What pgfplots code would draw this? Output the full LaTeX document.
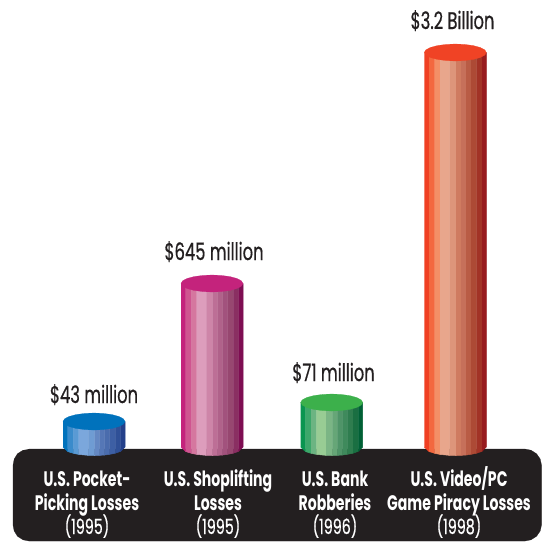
\documentclass[border=0pt]{standalone}
\usepackage{fontspec}
\usepackage{pgfplots}
\usepackage{pgfplotstable}
\pgfplotsset{compat=1.18}
\setmainfont[FakeStretch=0.67]{Poppins}
\newfontfamily\medfont[FakeStretch=0.68,FakeBold=0.5]{Poppins}

% one stripe per table: x offset from centre, t=1 at the top, d = drop of the base arc
\pgfplotstableread{
x t d
-31 0 0
-26.3 0 4.5
-26.3 1 0
-31 1 0
}\stA
\pgfplotstableread{
x t d
-26.3 0 4.5
-20.7 0 6.3
-20.7 1 0
-26.3 1 0
}\stB
\pgfplotstableread{
x t d
-20.7 0 6.3
-15.3 0 7.4
-15.3 1 0
-20.7 1 0
}\stC
\pgfplotstableread{
x t d
-15.3 0 7.4
-5.7 0 8.35
-5.7 1 0
-15.3 1 0
}\stD
\pgfplotstableread{
x t d
-5.7 0 8.35
0.7 0 8.5
0.7 1 0
-5.7 1 0
}\stE
\pgfplotstableread{
x t d
0.7 0 8.5
5.7 0 8.35
5.7 1 0
0.7 1 0
}\stF
\pgfplotstableread{
x t d
5.7 0 8.35
10.7 0 8
10.7 1 0
5.7 1 0
}\stG
\pgfplotstableread{
x t d
10.7 0 8
15.7 0 7.3
15.7 1 0
10.7 1 0
}\stH
\pgfplotstableread{
x t d
15.7 0 7.3
21.3 0 6.2
21.3 1 0
15.7 1 0
}\stI
\pgfplotstableread{
x t d
21.3 0 6.2
26.7 0 4.3
26.7 1 0
21.3 1 0
}\stJ
\pgfplotstableread{
x t d
26.7 0 4.3
31 0 0
31 1 0
26.7 1 0
}\stK
% top ellipse, centred on 0
\pgfplotstableread{
x y
-31 0
-29.5 -2.6
-25 -5
-18 -6.9
-9 -8.1
0 -8.5
9 -8.1
18 -6.9
25 -5
29.5 -2.6
31 0
29.5 2.6
25 5
18 6.9
9 8.1
0 8.5
-9 8.1
-18 6.9
-25 5
-29.5 2.6
}\topshape

\definecolor{blueA}{HTML}{0072BC}\definecolor{blueB}{HTML}{3A8BCB}\definecolor{blueC}{HTML}{5A9AD4}
\definecolor{blueD}{HTML}{7BA7DC}\definecolor{blueE}{HTML}{6F9CD3}\definecolor{blueF}{HTML}{6488C3}
\definecolor{blueG}{HTML}{5577B6}\definecolor{blueH}{HTML}{4A6CAD}\definecolor{blueI}{HTML}{3D5FA4}
\definecolor{blueJ}{HTML}{2F5097}\definecolor{blueK}{HTML}{24408A}\definecolor{blueT}{HTML}{0072BC}
\definecolor{magA}{HTML}{C4237C}\definecolor{magB}{HTML}{CF5590}\definecolor{magC}{HTML}{D5779F}
\definecolor{magD}{HTML}{DD9DBC}\definecolor{magE}{HTML}{CE85A8}\definecolor{magF}{HTML}{BD6F96}
\definecolor{magG}{HTML}{B0628A}\definecolor{magH}{HTML}{A2527D}\definecolor{magI}{HTML}{974770}
\definecolor{magJ}{HTML}{8A2F62}\definecolor{magK}{HTML}{7E0D52}\definecolor{magT}{HTML}{C4237C}
\definecolor{grnA}{HTML}{0A9550}\definecolor{grnB}{HTML}{3CA76A}\definecolor{grnC}{HTML}{6CB482}
\definecolor{grnD}{HTML}{98CC94}\definecolor{grnE}{HTML}{7BB585}\definecolor{grnF}{HTML}{66A677}
\definecolor{grnG}{HTML}{4F9468}\definecolor{grnH}{HTML}{3F8A5C}\definecolor{grnI}{HTML}{2F7D4F}
\definecolor{grnJ}{HTML}{1A6F42}\definecolor{grnK}{HTML}{006035}\definecolor{grnT}{HTML}{3CB04B}
\definecolor{redA}{HTML}{F04023}\definecolor{redB}{HTML}{F3683F}\definecolor{redC}{HTML}{F38F66}
\definecolor{redD}{HTML}{E8A68C}\definecolor{redE}{HTML}{DD957A}\definecolor{redF}{HTML}{CF7B60}
\definecolor{redG}{HTML}{C6705A}\definecolor{redH}{HTML}{B95C45}\definecolor{redI}{HTML}{AD4A35}
\definecolor{redJ}{HTML}{A23326}\definecolor{redK}{HTML}{971B1E}\definecolor{redT}{HTML}{F04325}
\definecolor{panel}{HTML}{231F20}

\tikzset{
    value/.style={font=\medfont\fontsize{24}{24}\selectfont, text=panel, anchor=base},
    cat/.style={font=\fontsize{21}{24}\selectfont\bfseries, text=white, anchor=base},
    yr/.style={font=\medfont\fontsize{21}{24}\selectfont, text=white, anchor=base},
}

\newcommand\stripe[4]{\addplot[fill=#1,draw=#1,line width=0.5pt] table[x expr=\thisrow{x}+#3, y expr={447+\thisrow{d}+\thisrow{t}*(#4-447)}] {#2};}
% colour prefix, centre x, top y
\newcommand\cyl[3]{%
  \stripe{#1A}{\stA}{#2}{#3}\stripe{#1B}{\stB}{#2}{#3}\stripe{#1C}{\stC}{#2}{#3}%
  \stripe{#1D}{\stD}{#2}{#3}\stripe{#1E}{\stE}{#2}{#3}\stripe{#1F}{\stF}{#2}{#3}%
  \stripe{#1G}{\stG}{#2}{#3}\stripe{#1H}{\stH}{#2}{#3}\stripe{#1I}{\stI}{#2}{#3}%
  \stripe{#1J}{\stJ}{#2}{#3}\stripe{#1K}{\stK}{#2}{#3}%
  \addplot[fill=#1T,draw=#1T,line width=0.2pt] table[x expr=\thisrow{x}+#2, y expr=\thisrow{y}+#3] {\topshape};%
}

\begin{document}
\begin{tikzpicture}
\begin{axis}[
    scale only axis,
    width=543pt,
    height=542pt,
    xmin=0, xmax=543,
    ymin=0, ymax=542,
    y dir=reverse,
    hide axis,
    clip=false,
]

% white page, holds the picture at its full size
\addplot[fill=white,draw=none] coordinates {(0,0) (543,0) (543,542) (0,542)};

% dark band under the cylinders
\addplot[fill=panel,draw=panel,line width=0.2pt] coordinates {
    (29,449) (525,449) (531,450.2) (536.5,453.7) (540.2,459) (541.5,465)
    (541.5,525) (540.2,531) (536.5,536.3) (531,539.8) (525,541)
    (29,541) (23,539.8) (17.5,536.3) (14.2,531) (13,525)
    (13,465) (14.2,459) (17.5,453.7) (23,450.2)
};

\cyl{blue}{94}{421.5}
\cyl{mag}{212}{283.5}
\cyl{grn}{331.7}{402.5}
\cyl{red}{455.3}{52.5}

\node[value] at (axis cs:94,403) {\$43 million};
\node[value] at (axis cs:214,260) {\$645 million};
\node[value] at (axis cs:333.5,381) {\$71 million};
\node[value] at (axis cs:452.5,29) {\$3.2 Billion};

\node[cat] at (axis cs:87,486.5) {U.S. Pocket-};
\node[cat] at (axis cs:87,510) {Picking Losses};
\node[yr] at (axis cs:87,534) {(1995)};
\node[cat] at (axis cs:218,486.5) {U.S. Shoplifting};
\node[cat] at (axis cs:218,510) {Losses};
\node[yr] at (axis cs:218,534) {(1995)};
\node[cat] at (axis cs:335,486.5) {U.S. Bank};
\node[cat] at (axis cs:335,510) {Robberies};
\node[yr] at (axis cs:335,534) {(1996)};
\node[cat] at (axis cs:459,486.5) {U.S. Video/PC};
\node[cat] at (axis cs:459,510) {Game Piracy Losses};
\node[yr] at (axis cs:459,534) {(1998)};

\end{axis}
\end{tikzpicture}
\end{document}
